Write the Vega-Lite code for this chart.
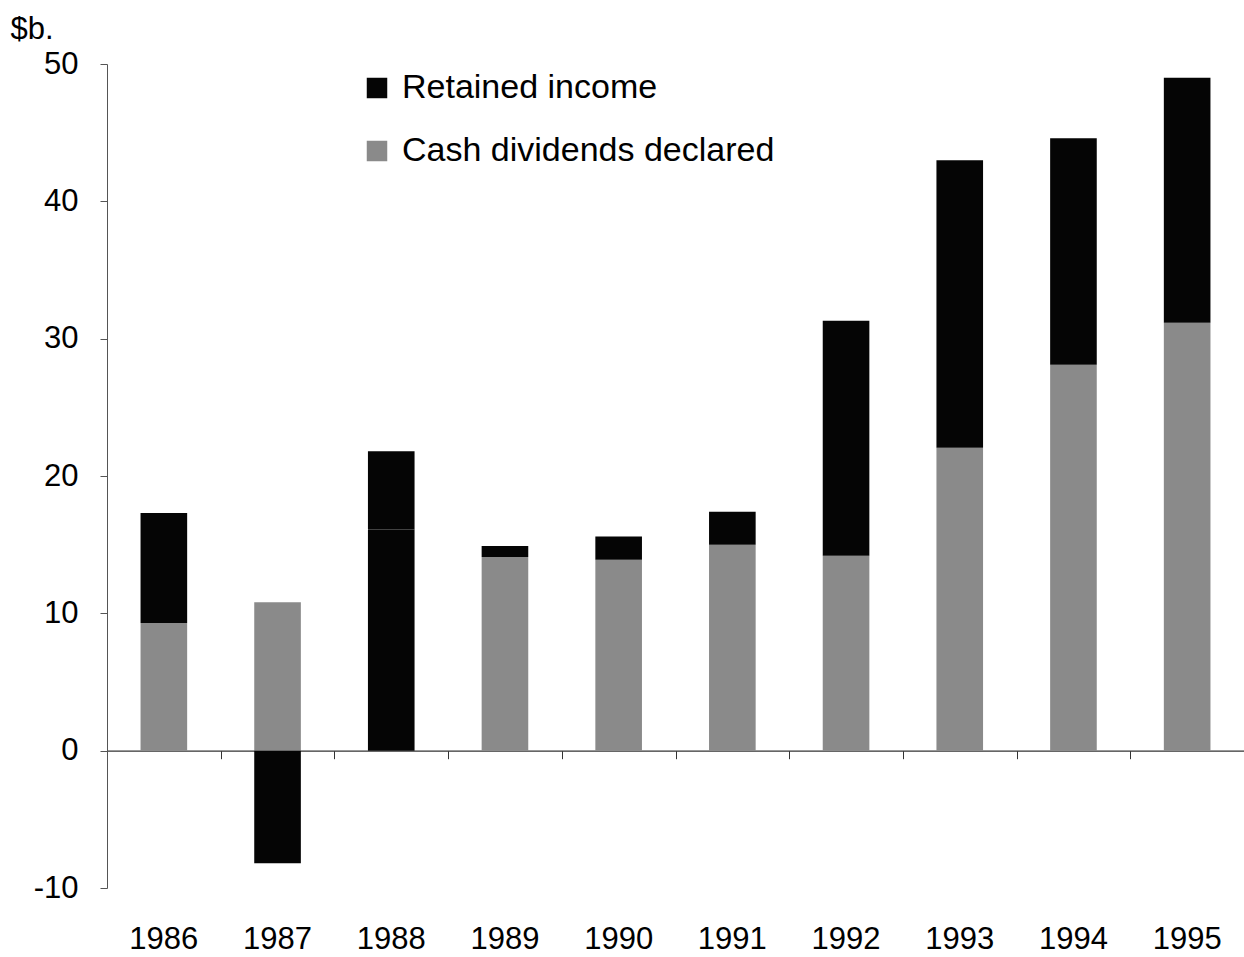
{
  "$schema": "https://vega.github.io/schema/vega-lite/v6.json",
  "width": 1137,
  "height": 824,
  "autosize": {"type": "none"},
  "padding": {"left": 107, "top": 64, "right": 0, "bottom": 69},
  "background": "white",
  "config": {
    "view": {"stroke": null},
    "font": "Liberation Sans"
  },
  "data": {
    "values": [
      {"year": "1986", "series": "Cash dividends declared", "value": 9.3},
      {"year": "1986", "series": "Retained income", "value": 8.0},
      {"year": "1987", "series": "Cash dividends declared", "value": 10.8},
      {"year": "1987", "series": "Retained income", "value": -8.2},
      {"year": "1988", "series": "Cash dividends declared", "value": 16.1},
      {"year": "1988", "series": "Retained income", "value": 5.7},
      {"year": "1989", "series": "Cash dividends declared", "value": 14.1},
      {"year": "1989", "series": "Retained income", "value": 0.8},
      {"year": "1990", "series": "Cash dividends declared", "value": 13.9},
      {"year": "1990", "series": "Retained income", "value": 1.7},
      {"year": "1991", "series": "Cash dividends declared", "value": 15.0},
      {"year": "1991", "series": "Retained income", "value": 2.4},
      {"year": "1992", "series": "Cash dividends declared", "value": 14.2},
      {"year": "1992", "series": "Retained income", "value": 17.1},
      {"year": "1993", "series": "Cash dividends declared", "value": 22.05},
      {"year": "1993", "series": "Retained income", "value": 20.95},
      {"year": "1994", "series": "Cash dividends declared", "value": 28.1},
      {"year": "1994", "series": "Retained income", "value": 16.5},
      {"year": "1995", "series": "Cash dividends declared", "value": 31.15},
      {"year": "1995", "series": "Retained income", "value": 17.85}
    ]
  },
  "layer": [
    {
      "mark": {"type": "bar", "width": {"band": 0.41}},
      "encoding": {
        "x": {
          "field": "year",
          "type": "nominal",
          "scale": {"paddingInner": 0, "paddingOuter": 0},
          "axis": {
            "title": null,
            "domain": false,
            "ticks": false,
            "labelAngle": 0,
            "labelFontSize": 31,
            "labelColor": "black",
            "labelPadding": 36
          }
        },
        "y": {
          "field": "value",
          "type": "quantitative",
          "stack": "zero",
          "scale": {"domain": [-10, 50], "nice": false, "zero": false},
          "axis": {
            "values": [-10, 0, 10, 20, 30, 40, 50],
            "labelExpr": "'' + datum.value",
            "grid": false,
            "domainColor": "#555555",
            "domainWidth": 1,
            "tickColor": "#555555",
            "tickSize": 7,
            "labelFontSize": 31,
            "labelColor": "black",
            "labelPadding": 22,
            "title": "$b.",
            "titleAngle": 0,
            "titleX": -97,
            "titleY": -26,
            "titleAlign": "left",
            "titleBaseline": "alphabetic",
            "titleFontSize": 31,
            "titleFontWeight": "normal",
            "titleColor": "black"
          }
        },
        "color": {
          "field": "series",
          "type": "nominal",
          "condition": {"test": "datum.year == '1988'", "value": "#050505"},
          "scale": {
            "domain": ["Retained income", "Cash dividends declared"],
            "range": ["#050505", "#8a8a8a"]
          },
          "legend": {
            "title": null,
            "orient": "none",
            "legendX": 253,
            "legendY": 7,
            "symbolType": "square",
            "symbolSize": 420,
            "symbolStrokeWidth": 0,
            "labelFontSize": 34,
            "labelColor": "black",
            "labelOffset": 8,
            "rowPadding": 29,
            "labelLimit": 600
          }
        },
        "order": {"field": "series", "sort": "ascending"}
      }
    },
    {
      "mark": {"type": "tick", "opacity": 0},
      "encoding": {
        "x": {
          "field": "year",
          "type": "nominal",
          "axis": {
            "orient": "bottom",
            "title": null,
            "labels": false,
            "domain": true,
            "domainColor": "#333333",
            "domainWidth": 1.2,
            "ticks": true,
            "tickBand": "extent",
            "tickColor": "#333333",
            "tickSize": 8,
            "offset": -137.3
          }
        },
        "y": {"datum": 0}
      }
    }
  ],
  "resolve": {"axis": {"x": "independent"}}
}
